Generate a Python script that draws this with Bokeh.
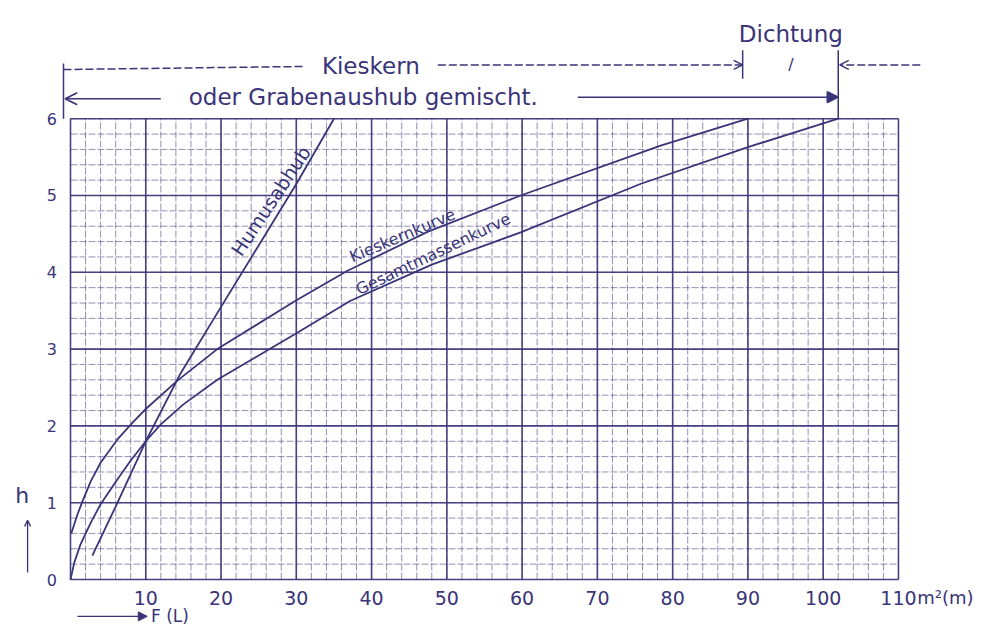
import numpy as np
from bokeh.plotting import figure
from bokeh.models import Range1d, Arrow, OpenHead, NormalHead
from bokeh.core.properties import value
from bokeh.embed import file_html
from bokeh.resources import INLINE

INK = "#3a3478"
FONT = "DejaVu Sans"

# ---- data ----
kies_x = [0.1, 0.9, 1.6, 2.7, 4.0, 6.2, 8.4, 10.0, 14.2, 19.5, 29.9, 36.8, 47.5, 59.8, 78.4, 90.0]
kies_y = [0.6, 0.84, 1.02, 1.28, 1.52, 1.82, 2.06, 2.22, 2.59, 3.0, 3.63, 4.02, 4.53, 5.0, 5.65, 6.0]

ges_x = [0.0, 0.5, 1.3, 2.7, 4.0, 6.2, 8.0, 10.0, 12.0, 15.0, 19.5, 29.9, 37.2, 48.0, 59.8, 75.7, 90.0, 102.0]
ges_y = [0.0, 0.22, 0.45, 0.74, 0.98, 1.3, 1.55, 1.8, 2.02, 2.28, 2.6, 3.2, 3.63, 4.1, 4.52, 5.15, 5.63, 6.0]

hum_x = [2.9, 6.0, 10.0, 14.6, 20.0, 25.0, 30.0, 35.0]
hum_y = [0.31, 0.95, 1.8, 2.68, 3.55, 4.35, 5.15, 6.0]

x_ticks = [10, 20, 30, 40, 50, 60, 70, 80, 90, 100, 110]
x_tick_labels = [str(v) for v in x_ticks]
y_ticks = [0, 1, 2, 3, 4, 5, 6]
y_tick_labels = [str(v) for v in y_ticks]
x_major = list(range(0, 111, 10))
x_minor = list(range(0, 111, 2))
y_major = [0, 1, 2, 3, 4, 5, 6]
y_minor = [round(v * 0.2, 1) for v in range(0, 31)]
X_MAX, Y_MAX = 110, 6

p = figure(width=973, height=628, output_backend="svg", toolbar_location=None,
           x_range=Range1d(-9.30, 119.97), y_range=Range1d(-0.638, 7.539),
           min_border=0)
p.background_fill_color = "white"
p.border_fill_color = "white"
p.outline_line_color = None
p.xaxis.visible = False
p.yaxis.visible = False
p.grid.visible = False

# graph-paper grid
p.segment(x0=x_minor, x1=x_minor, y0=[0] * len(x_minor), y1=[Y_MAX] * len(x_minor),
          line_color=INK, line_alpha=0.55, line_width=1, line_dash="7 2")
p.segment(x0=[0] * len(y_minor), x1=[X_MAX] * len(y_minor), y0=y_minor, y1=y_minor,
          line_color=INK, line_alpha=0.55, line_width=1, line_dash="7 2")
p.segment(x0=x_major, x1=x_major, y0=[0] * len(x_major), y1=[Y_MAX] * len(x_major),
          line_color=INK, line_alpha=0.9, line_width=1.6)
p.segment(x0=[0] * len(y_major), x1=[X_MAX] * len(y_major), y0=y_major, y1=y_major,
          line_color=INK, line_alpha=0.9, line_width=1.6)

# tick labels
p.text(x=x_ticks, y=[-0.24] * len(x_ticks), text=x_tick_labels, text_font=value(FONT),
       text_font_size="19px", text_color=INK, text_align="center", text_baseline="middle")
p.text(x=[-1.8] * len(y_ticks), y=y_ticks, text=y_tick_labels, text_font=value(FONT),
       text_font_size="16px", text_color=INK, text_align="right", text_baseline="middle")

# curves
p.line(kies_x, kies_y, line_color=INK, line_width=1.8)
p.line(ges_x, ges_y, line_color=INK, line_width=1.8)
p.line(hum_x, hum_y, line_color=INK, line_width=1.8)


def txt(x, y, s, size, align="center", angle=0):
    p.text(x=[x], y=[y], text=[s], angle=angle, angle_units="deg", text_font=value(FONT),
           text_font_size=size, text_color=INK, text_align=align, text_baseline="middle")


def seg(x0, y0, x1, y1, dash="solid", head=None, w=1.5):
    p.add_layout(Arrow(x_start=x0, y_start=y0, x_end=x1, y_end=y1,
                       line_color=INK, line_width=w, line_dash=dash, end=head, start=None))


# curve labels
txt(26.6, 4.93, "Humusabhub", "19px", angle=56.4)
txt(44.1, 4.48, "Kieskernkurve", "16px", angle=23)
txt(48.2, 4.24, "Gesamtmassenkurve", "16px", angle=25.5)

# header annotations
seg(-0.93, 6.0, -0.93, 6.72)                          # left bar
seg(-0.93, 6.64, 31.0, 6.68, dash="8 3")              # Kieskern dashes (left)
seg(48.8, 6.7, 89.3, 6.7, dash="8 3",
    head=OpenHead(size=9, line_color=INK, line_width=1.5))
seg(89.3, 6.52, 89.3, 6.89)                           # Dichtung left tick
seg(102.0, 6.0, 102.0, 6.89)                          # Dichtung right bar
seg(112.9, 6.7, 102.2, 6.7, dash="8 3",
    head=OpenHead(size=9, line_color=INK, line_width=1.5))
seg(12.0, 6.26, -0.7, 6.26,
    head=OpenHead(size=12, line_color=INK, line_width=1.8))
seg(67.4, 6.28, 102.0, 6.28,
    head=NormalHead(size=11, line_color=INK, fill_color=INK, line_width=1.5))

txt(39.9, 6.68, "Kieskern", "23px")
txt(38.9, 6.28, "oder Grabenaushub gemischt.", "23px")
txt(95.7, 7.1, "Dichtung", "23px")
txt(95.7, 6.7, "/", "16px")

# axis captions
txt(112.5, -0.24, "m²(m)", "18px", align="left")
txt(-6.4, 1.09, "h", "22px")
seg(-5.7, 0.09, -5.7, 0.77, head=OpenHead(size=6, line_color=INK, line_width=1.3), w=1.3)
seg(0.93, -0.48, 10.2, -0.48, head=NormalHead(size=9, line_color=INK, fill_color=INK), w=1.3)
txt(10.7, -0.48, "F (L)", "17px", align="left")

open("out.html", "w").write(file_html(p, INLINE))
